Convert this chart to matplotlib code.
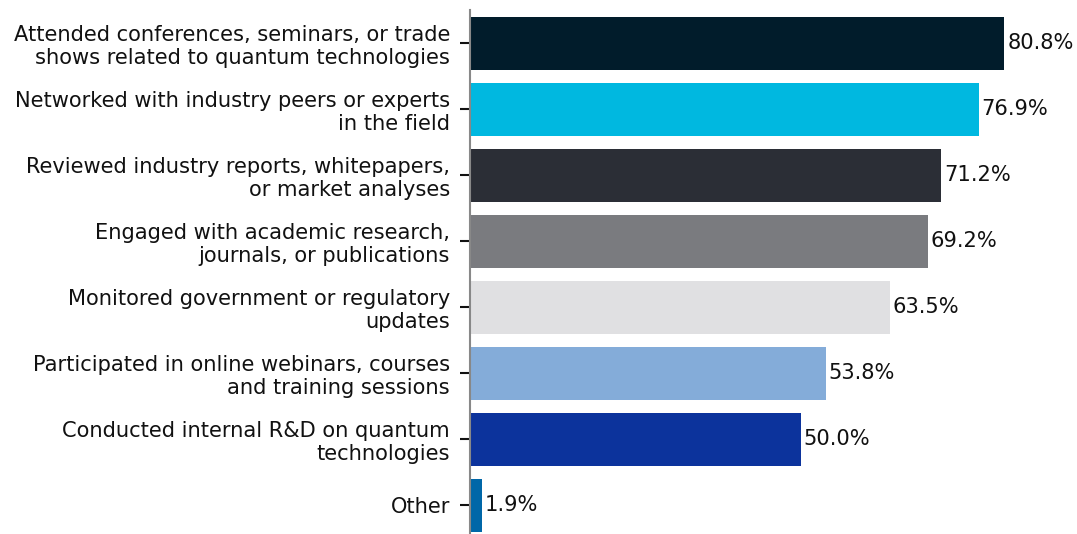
import matplotlib
matplotlib.use("Agg")
import matplotlib.pyplot as plt

plt.rcParams["font.family"] = ["DejaVu Sans"]

categories = [
    "Attended conferences, seminars, or trade\nshows related to quantum technologies",
    "Networked with industry peers or experts\nin the field",
    "Reviewed industry reports, whitepapers,\nor market analyses",
    "Engaged with academic research,\njournals, or publications",
    "Monitored government or regulatory\nupdates",
    "Participated in online webinars, courses\nand training sessions",
    "Conducted internal R&D on quantum\ntechnologies",
    "Other",
]
values = [80.8, 76.9, 71.2, 69.2, 63.5, 53.8, 50.0, 1.9]
colors = ["#011c2b", "#00b8e0", "#2b2e36", "#7a7b7f", "#e0e0e2",
          "#84acd9", "#0c339c", "#0067a8"]

FS = 15.1
W, H = 1077, 534
fig = plt.figure(figsize=(W / 100, H / 100), dpi=100)
left, right, top, bottom = 469.5, 1065, 10, 534
ax = fig.add_axes([left / W, 1 - bottom / H, (right - left) / W, (bottom - top) / H])

pos = list(range(len(categories)))
ax.barh(pos, values, height=0.8, color=colors, zorder=2)

for p, v in zip(pos, values):
    ax.text(v + 0.45, p, f"{v:.1f}%", va="center", ha="left", fontsize=FS, color="#111111")

ax.set_yticks(pos)
ax.set_yticklabels(categories, fontsize=FS, linespacing=1.17)
ax.set_ylim(7.433, -0.506)
ax.set_xlim(0, (right - left) / 6.621)

for s in ["top", "right", "bottom"]:
    ax.spines[s].set_visible(False)
ax.spines["left"].set_color("#888888")
ax.spines["left"].set_linewidth(1.5)
ax.tick_params(axis="y", length=7, width=1.5, pad=7, color="#111111", labelcolor="#111111")
ax.set_xticks([])

fig.savefig("out.png", dpi=100)
